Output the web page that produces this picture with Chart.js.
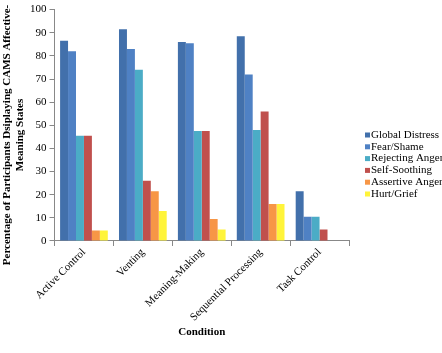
<!DOCTYPE html>
<html>
<head>
<meta charset="utf-8">
<script src="https://cdn.jsdelivr.net/npm/chart.js@4/dist/chart.umd.min.js"></script>
<style>
  html, body { margin: 0; padding: 0; background: #fff; overflow: hidden; }
  #wrap { width: 442px; height: 353px; }
</style>
</head>
<body>
<div id="wrap"><canvas id="chart"></canvas></div>
<script>
const conditions = ['Active Control', 'Venting', 'Meaning-Making', 'Sequential Processing', 'Task Control'];

const globalDistress = [86.5, 91.5, 86, 88.5, 21.5];
const fearShame = [82, 83, 85.5, 72, 10.5];
const rejectingAnger = [45.5, 74, 47.5, 48, 10.5];
const selfSoothing = [45.5, 26, 47.5, 56, 5];
const assertiveAnger = [4.5, 21.5, 9.5, 16, 0];
const hurtGrief = [4.5, 13, 5, 16, 0];

const yTicks = [0, 10, 20, 30, 40, 50, 60, 70, 80, 90, 100];

const serif = "'Liberation Serif', 'Times New Roman', serif";

// legend drawn by hand so the text can run off the right edge like the original
const sideLegendPlugin = {
  id: 'sideLegend',
  afterDraw: (chart) => {
    const ctx = chart.ctx;
    const x = 365, y0 = 135, step = 11.8;
    ctx.save();
    ctx.font = '11px ' + serif;
    ctx.textBaseline = 'middle';
    chart.data.datasets.forEach((ds, i) => {
      const y = y0 + i * step;
      ctx.fillStyle = ds.backgroundColor;
      ctx.fillRect(x, y - 2.5, 5, 5);
      ctx.fillStyle = '#000';
      ctx.fillText(ds.label, x + 6, y);
    });
    ctx.restore();
  }
};

// y title centred on the whole canvas height, as in the original
const yTitlePlugin = {
  id: 'yTitle',
  afterDraw: (chart) => {
    const ctx = chart.ctx;
    ctx.save();
    ctx.font = 'bold 11px ' + serif;
    ctx.fillStyle = '#000';
    ctx.textAlign = 'center';
    ctx.textBaseline = 'middle';
    ctx.translate(0, 135);
    ctx.rotate(-Math.PI / 2);
    ctx.fillText('Percentage of Participants Dsiplaying CAMS Affective-', 0, 7);
    ctx.fillText('Meaning States', 0, 20);
    ctx.restore();
  }
};

new Chart(document.getElementById('chart'), {
  type: 'bar',
  data: {
    labels: conditions,
    datasets: [
      { label: 'Global Distress', data: globalDistress, backgroundColor: '#4270AB' },
      { label: 'Fear/Shame', data: fearShame, backgroundColor: '#4F81C4' },
      { label: 'Rejecting Anger', data: rejectingAnger, backgroundColor: '#4BACC6' },
      { label: 'Self-Soothing', data: selfSoothing, backgroundColor: '#C0504D' },
      { label: 'Assertive Anger', data: assertiveAnger, backgroundColor: '#F79646' },
      { label: 'Hurt/Grief', data: hurtGrief, backgroundColor: '#FFF43A' }
    ]
  },
  options: {
    responsive: true,
    maintainAspectRatio: false,
    animation: false,
    layout: { padding: { left: 27, right: 93, top: 6, bottom: 10 } },
    plugins: {
      legend: { display: false },
      tooltip: { enabled: false }
    },
    datasets: { bar: { categoryPercentage: 0.81, barPercentage: 1.0 } },
    scales: {
      x: {
        grid: { drawOnChartArea: false, drawTicks: true, tickLength: 5, color: '#888' },
        border: { color: '#888' },
        ticks: {
          font: { family: serif, size: 11 },
          color: '#000',
          minRotation: 45,
          maxRotation: 45,
          padding: 0
        },
        title: {
          display: true,
          text: 'Condition',
          font: { family: serif, size: 11, weight: 'bold' },
          color: '#000',
          padding: { top: 2 }
        }
      },
      y: {
        min: 0,
        max: 100,
        afterBuildTicks: (axis) => { axis.ticks = yTicks.map(v => ({ value: v })); },
        grid: { drawOnChartArea: false, drawTicks: true, tickLength: 5, color: '#888' },
        border: { color: '#888' },
        ticks: {
          font: { family: serif, size: 11 },
          color: '#000',
          padding: 3
        }
      }
    }
  },
  plugins: [sideLegendPlugin, yTitlePlugin]
});
</script>
</body>
</html>
